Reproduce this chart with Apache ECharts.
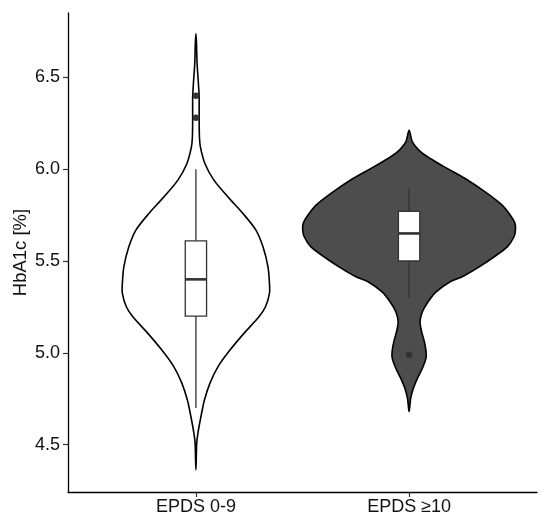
<!DOCTYPE html>
<html>
<head>
<meta charset="utf-8">
<script src="https://cdn.jsdelivr.net/npm/echarts@6/dist/echarts.min.js"></script>
<style>
  html, body { margin: 0; padding: 0; background: #fff; }
  #chart { width: 550px; height: 522px; }
</style>
</head>
<body>
<div id="chart"></div>
<script>
var GROUPS = ['EPDS 0-9', 'EPDS ≥10']
var Y_TICKS = [4.5, 5.0, 5.5, 6.0, 6.5]

// violin outlines: HbA1c level and relative density (1 = widest point)
var G1_LEVELS = [6.738, 6.684, 6.575, 6.466, 6.393, 6.277, 6.176, 6.121, 6.031, 5.940, 5.849, 5.759, 5.668, 5.577,
  5.468, 5.378, 5.324, 5.251, 5.196, 5.106, 5.015, 4.924, 4.834, 4.743, 4.652, 4.562, 4.508, 4.363]
var G1_DENSITY = [0, 0.008, 0.016, 0.034, 0.044, 0.044, 0.048, 0.061, 0.122, 0.245, 0.435, 0.639, 0.816, 0.912,
  0.980, 1.0, 1.0, 0.946, 0.857, 0.653, 0.463, 0.299, 0.190, 0.116, 0.068, 0.027, 0.011, 0]

var G2_LEVELS = [6.212, 6.149, 6.094, 6.058, 6.004, 5.949, 5.876, 5.804, 5.750, 5.705, 5.668, 5.632, 5.578, 5.523,
  5.468, 5.414, 5.387, 5.332, 5.278, 5.224, 5.169, 5.115, 5.060, 5.006, 4.970, 4.916, 4.861, 4.807, 4.752, 4.680]
var G2_DENSITY = [0, 0.031, 0.110, 0.198, 0.357, 0.527, 0.715, 0.875, 0.950, 0.995, 1.0, 0.986, 0.925, 0.800,
  0.659, 0.499, 0.386, 0.254, 0.179, 0.125, 0.103, 0.118, 0.144, 0.160, 0.158, 0.125, 0.078, 0.040, 0.015, 0]

// box stats: [lower whisker, Q1, median, Q3, upper whisker]
var G1_BOX = [4.70, 5.20, 5.40, 5.61, 6.00]
var G2_BOX = [5.30, 5.50, 5.65, 5.77, 5.90]
var G1_OUTLIERS = [6.40, 6.28]
var G2_OUTLIERS = [4.99]

var FONT = 'Liberation Sans, Arial, sans-serif'
var VIOLIN_HALF = [0.345, 0.499]
var BOX_HALF = 0.05

function violinSeries(gi, levels, density, fill) {
  return {
    type: 'custom',
    silent: true,
    data: [[gi + 1, levels[0]]],
    renderItem: function (params, api) {
      var x = gi + 1
      var pts = []
      var i
      for (i = 0; i < levels.length; i++) {
        pts.push(api.coord([x + density[i] * VIOLIN_HALF[gi], levels[i]]))
      }
      for (i = levels.length - 2; i >= 1; i--) {
        pts.push(api.coord([x - density[i] * VIOLIN_HALF[gi], levels[i]]))
      }
      return {
        type: 'polygon',
        shape: { points: pts, smooth: 0.3 },
        style: { fill: fill, stroke: '#000', lineWidth: 1.6 }
      }
    }
  }
}

function boxSeries(gi, stats) {
  return {
    type: 'custom',
    silent: true,
    data: [[gi + 1, stats[2]]],
    renderItem: function (params, api) {
      var x = gi + 1
      var lo = api.coord([x, stats[0]])
      var q1L = api.coord([x - BOX_HALF, stats[1]])
      var q3R = api.coord([x + BOX_HALF, stats[3]])
      var q1 = api.coord([x, stats[1]])
      var q3 = api.coord([x, stats[3]])
      var hi = api.coord([x, stats[4]])
      var medL = api.coord([x - BOX_HALF, stats[2]])
      var medR = api.coord([x + BOX_HALF, stats[2]])
      var line = { stroke: '#333', lineWidth: 1.3 }
      return {
        type: 'group',
        children: [
          { type: 'line', shape: { x1: hi[0], y1: hi[1], x2: q3[0], y2: q3[1] }, style: line },
          { type: 'line', shape: { x1: q1[0], y1: q1[1], x2: lo[0], y2: lo[1] }, style: line },
          {
            type: 'rect',
            shape: { x: q1L[0], y: q3R[1], width: q3R[0] - q1L[0], height: q1L[1] - q3R[1] },
            style: { fill: '#fff', stroke: '#333', lineWidth: 1.3 }
          },
          { type: 'line', shape: { x1: medL[0], y1: medL[1], x2: medR[0], y2: medR[1] }, style: { stroke: '#333', lineWidth: 2.6 } }
        ]
      }
    }
  }
}

var outlierData = G1_OUTLIERS.map(function (v) { return [1, v] })
  .concat(G2_OUTLIERS.map(function (v) { return [2, v] }))

var option = {
  animation: false,
  backgroundColor: '#fff',
  grid: { left: 68, right: 13, top: 13, bottom: 30, outerBoundsMode: 'none' },
  xAxis: {
    type: 'value',
    min: 0.4,
    max: 2.6,
    axisLine: { lineStyle: { color: '#000', width: 1.3 } },
    axisTick: { customValues: [1, 2], length: 5, lineStyle: { color: '#333', width: 1.2 } },
    axisLabel: {
      customValues: [1, 2],
      formatter: function (v) { return GROUPS[Math.round(v) - 1] },
      color: '#111',
      fontFamily: FONT,
      fontSize: 18,
      margin: 6
    },
    splitLine: { show: false }
  },
  yAxis: {
    type: 'value',
    min: 4.2425,
    max: 6.85,
    name: 'HbA1c [%]',
    nameLocation: 'middle',
    nameGap: 38,
    nameMoveOverlap: false,
    nameTextStyle: { color: '#111', fontFamily: FONT, fontSize: 18.5 },
    axisLine: { show: true, lineStyle: { color: '#000', width: 1.3 } },
    axisTick: { show: true, customValues: Y_TICKS, length: 5, lineStyle: { color: '#333', width: 1.2 } },
    axisLabel: {
      customValues: Y_TICKS,
      formatter: function (v) { return v.toFixed(1) },
      color: '#111',
      fontFamily: FONT,
      fontSize: 18,
      margin: 8
    },
    splitLine: { show: false }
  },
  series: [
    violinSeries(0, G1_LEVELS, G1_DENSITY, '#fff'),
    violinSeries(1, G2_LEVELS, G2_DENSITY, '#4d4d4d'),
    boxSeries(0, G1_BOX),
    boxSeries(1, G2_BOX),
    {
      type: 'scatter',
      silent: true,
      data: outlierData,
      symbol: 'circle',
      symbolSize: 6.5,
      itemStyle: { color: '#333', opacity: 1 }
    }
  ]
}

var chart = echarts.init(document.getElementById('chart'))
chart.setOption(option)
</script>
</body>
</html>
